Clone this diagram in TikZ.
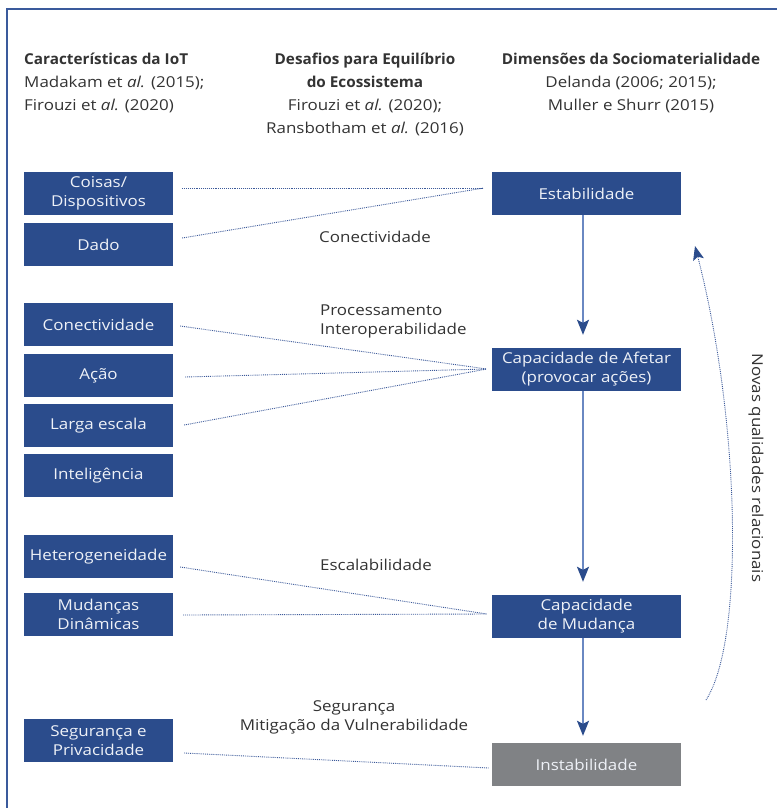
\documentclass[tikz,border=0pt]{standalone}
\usepackage{fontspec}
\setmainfont{Open Sans}[UprightFeatures={FakeStretch=1.13},ItalicFeatures={FakeStretch=1.13},BoldFeatures={FakeStretch=1.02}]
\usetikzlibrary{arrows.meta,calc}
\definecolor{boxblue}{HTML}{2B4C8C}
\definecolor{bordercol}{HTML}{3A5A9C}
\definecolor{linecol}{HTML}{6A88C2}
\definecolor{dotcol}{HTML}{3C5A9A}
\definecolor{greybox}{HTML}{808285}
\definecolor{txt}{HTML}{333333}
\definecolor{boxtxt}{HTML}{EEF1F7}
\begin{document}
\begin{tikzpicture}[x=1pt,y=-1pt,
  every node/.style={font=\fontsize{15}{19}\selectfont},
  leftbox/.style={fill=boxblue,text=boxtxt,minimum width=149pt,minimum height=43pt,inner sep=0pt,align=center},
  rightbox/.style={fill=boxblue,text=boxtxt,minimum width=189pt,minimum height=43pt,inner sep=0pt,align=center},
  greyrbox/.style={rightbox,fill=greybox},
  hdr/.style={text=txt,inner sep=0pt,font=\fontsize{15}{23}\selectfont},
  lbl/.style={text=txt,inner sep=0pt,font=\fontsize{15}{19}\selectfont},
  dotline/.style={dotcol,densely dotted,line width=0.9pt},
  flow/.style={linecol,line width=1.6pt,-{Stealth[length=15pt,width=12pt,inset=3pt,color=boxblue]}}
]
\useasboundingbox (0,0) rectangle (777,808);
\draw[bordercol,line width=1.6pt] (7,808) -- (7,9) -- (777,9);

% headers
\node[hdr,anchor=north west,align=left] (h1) at (24,53) {\textbf{Características da IoT}\\Madakam et \textit{al.} (2015);\\Firouzi et \textit{al.} (2020)};
\node[hdr,anchor=north,align=center] (h2) at (365,53) {\textbf{Desafios para Equilíbrio}\\\textbf{do Ecossistema}\\Firouzi et \textit{al.} (2020);\\Ransbotham et \textit{al.} (2016)};
\node[hdr,anchor=north,align=center] (h3) at (631,53) {\textbf{Dimensões da Sociomaterialidade}\\Delanda (2006; 2015);\\Muller e Shurr (2015)};

% left boxes
\node[leftbox] (coisas) at (98.5,193.5) {Coisas/\\Dispositivos};
\node[leftbox] (dado) at (98.5,244.5) {Dado};
\node[leftbox] (conect) at (98.5,324.5) {Conectividade};
\node[leftbox] (acao) at (98.5,375.5) {Ação};
\node[leftbox] (larga) at (98.5,425.5) {Larga escala};
\node[leftbox] (intel) at (98.5,475.5) {Inteligência};
\node[leftbox] (hetero) at (98.5,556.5) {Heterogeneidade};
\node[leftbox] (mudancas) at (98.5,614.5) {Mudanças\\Dinâmicas};
\node[leftbox] (seguranca) at (98.5,740.5) {Segurança e\\Privacidade};

% right boxes
\node[rightbox] (estab) at (586.5,193.5) {Estabilidade};
\node[rightbox] (afetar) at (586.5,369.5) {Capacidade de Afetar\\(provocar ações)};
\node[rightbox] (mudanca) at (586.5,616.5) {Capacidade\\de Mudança};
\node[greyrbox] (instab) at (586.5,764.5) {Instabilidade};

% labels
\node[lbl] (lconect) at (375,237) {Conectividade};
\node[lbl,anchor=west,align=left] (lproc) at (320,321) {Processamento\\Interoperabilidade};
\node[lbl,anchor=west] (lescal) at (320,565) {Escalabilidade};
\node[lbl,align=center] (lseg) at (354,717) {Segurança\\Mitigação da Vulnerabilidade};

% dotted connectors
\draw[dotline] ([xshift=9pt,yshift=5.5pt]coisas.east) -- ([xshift=-8pt,yshift=5.5pt]estab.west);
\draw[dotline] ([xshift=9pt,yshift=6.5pt]dado.east) -- ([xshift=-8pt,yshift=5.5pt]estab.west);
\draw[dotline] ([xshift=7pt,yshift=-1.5pt]conect.east) -- ([xshift=-5pt,yshift=0.5pt]afetar.west);
\draw[dotline] ([xshift=12pt,yshift=-1.5pt]acao.east) -- ([xshift=-5pt,yshift=0.5pt]afetar.west);
\draw[dotline] ([xshift=11pt,yshift=0.5pt]larga.east) -- ([xshift=-5pt,yshift=0.5pt]afetar.west);
\draw[dotline] ([xshift=7pt,yshift=-10.5pt]hetero.east) -- ([xshift=-5pt,yshift=2.5pt]mudanca.west);
\draw[dotline] ([xshift=10pt,yshift=-0.5pt]mudancas.east) -- ([xshift=-5pt,yshift=2.5pt]mudanca.west);
\draw[dotline] ([xshift=11pt,yshift=-12.5pt]seguranca.east) -- ([xshift=-3pt,yshift=-3.5pt]instab.west);

% flow arrows
\draw[flow,shorten >=13pt] ([xshift=-3.5pt]estab.south) -- ([xshift=-3.5pt]afetar.north);
\draw[flow,shorten >=13pt] ([xshift=-3.5pt]afetar.south) -- ([xshift=-3.5pt]mudanca.north);
\draw[flow,shorten >=7pt] ([xshift=-3.5pt]mudanca.south) -- ([xshift=-3.5pt]instab.north);

% curved arrow
\coordinate (cstart) at (706,700);
\coordinate (cend) at (695,246);
\draw[dotline,-{Stealth[length=14pt,width=11pt,inset=3pt,color=boxblue]}] (cstart) .. controls (745,640) and (740,420) .. (cend);
\node[lbl,rotate=-90] (lnovas) at (756,468) {Novas qualidades relacionais};
\end{tikzpicture}
\end{document}
